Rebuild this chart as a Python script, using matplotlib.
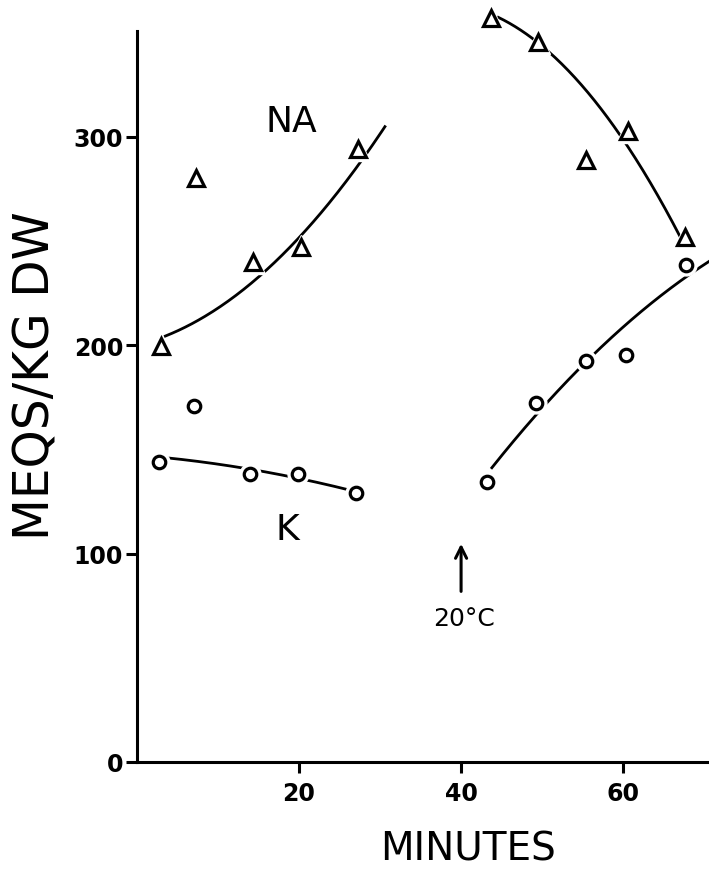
import numpy as np
import matplotlib
matplotlib.use("Agg")
import matplotlib.pyplot as plt

# ---- data ----
na_left_x = [3.0, 7.25, 14.3, 20.2, 27.3]
na_left_y = [199.7, 280.1, 239.8, 247.0, 294.0]
k_left_x = [2.75, 7.0, 14.0, 19.9, 27.0]
k_left_y = [143.7, 170.8, 138.0, 138.0, 128.8]
na_right_x = [43.7, 49.5, 55.4, 60.6, 67.6]
na_right_y = [356.8, 345.5, 288.9, 302.8, 251.7]
k_right_x = [43.2, 49.2, 55.4, 60.3, 67.7]
k_right_y = [134.4, 172.4, 192.3, 195.2, 238.4]

# hand-drawn fitted curves
na_left_curve_x = [3.5, 14.6, 20.9, 28.4, 30.6]
na_left_curve_y = [203.8, 233.2, 254.0, 290.0, 306.8]
k_left_curve_x = [3.5, 12.5, 18.5, 25.5, 27.0]
k_left_curve_y = [146.0, 141.2, 137.3, 131.3, 129.5]
na_right_curve_x = [44.6, 48.7, 54.7, 58.8, 66.4, 67.5]
na_right_curve_y = [357.2, 347.0, 326.0, 305.2, 254.8, 250.0]
k_right_curve_x = [43.8, 49.3, 54.7, 62.5, 70.6]
k_right_curve_y = [140.0, 169.3, 187.7, 216.5, 240.4]

x_ticks = [20, 40, 60]
y_ticks = [0, 100, 200, 300]

fig = plt.figure(figsize=(7.09, 8.70), dpi=100)
ax = fig.add_axes([137/709, 107/870, 572/709, 731/870])
ax.set_xlim(0, 70.6)
ax.set_ylim(0, 350.6)

for s in ["top", "right"]:
    ax.spines[s].set_visible(False)
for s in ["left", "bottom"]:
    ax.spines[s].set_linewidth(2.2)

def smooth(xs, ys, deg=2):
    c = np.polyfit(xs, ys, deg)
    xx = np.linspace(min(xs), max(xs), 200)
    return xx, np.polyval(c, xx)

for cx, cy in [(na_left_curve_x, na_left_curve_y), (k_left_curve_x, k_left_curve_y),
               (na_right_curve_x, na_right_curve_y), (k_right_curve_x, k_right_curve_y)]:
    xx, yy = smooth(cx, cy)
    ax.plot(xx, yy, color="black", lw=2.0, clip_on=False, zorder=2)

for xs, ys, m, ms in [(na_left_x, na_left_y, "^", 11), (na_right_x, na_right_y, "^", 11),
                      (k_left_x, k_left_y, "o", 9), (k_right_x, k_right_y, "o", 9)]:
    ax.plot(xs, ys, ls="none", marker=m, ms=ms + 6, mfc="white", mec="white",
            clip_on=False, zorder=3)
    ax.plot(xs, ys, ls="none", marker=m, ms=ms, mfc="white", mec="black", mew=2.3,
            clip_on=False, zorder=4)

ax.set_xticks(x_ticks)
ax.set_yticks(y_ticks)
ax.set_xticklabels([str(v) for v in x_ticks], fontsize=17, fontweight="bold")
ax.set_yticklabels([str(v) for v in y_ticks], fontsize=17, fontweight="bold")
ax.tick_params(axis="both", direction="out", length=8, width=2.2)
ax.tick_params(axis="y", pad=2)
ax.tick_params(axis="x", pad=6)

ax.text(19.1, 307.6, "NA", fontsize=26, ha="center", va="center")
ax.text(18.5, 111.8, "K", fontsize=26, ha="center", va="center")

ax.annotate("", xy=(40.0, 106.0), xytext=(40.0, 80.5),
            arrowprops=dict(arrowstyle="->", lw=2.2, color="black", mutation_scale=20))
ax.text(40.3, 69.3, "20°C", fontsize=18, ha="center", va="center")

ax.set_xlabel("MINUTES", fontsize=28)
ax.xaxis.set_label_coords(0.579, -0.119)
ax.xaxis.label.set_va("center")
ax.set_ylabel("MEQS/KG DW", fontsize=35)
ax.yaxis.set_label_coords(-0.178, 0.53)
ax.yaxis.label.set_va("center")

fig.savefig("out.png", dpi=100)
